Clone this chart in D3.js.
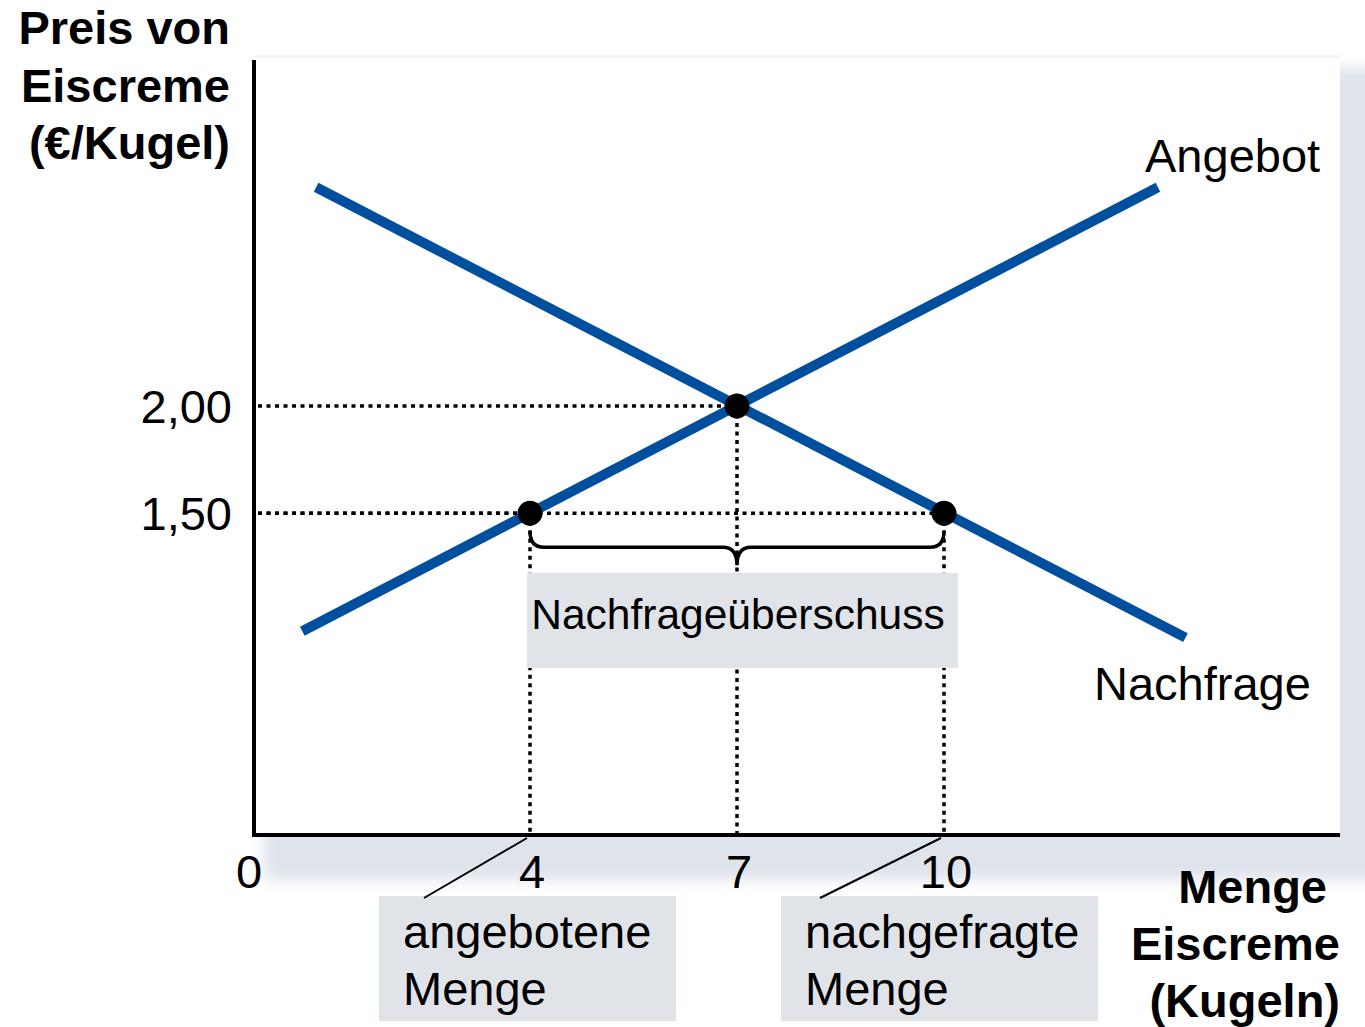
<!DOCTYPE html>
<html>
<head>
<meta charset="utf-8">
<script src="https://cdn.jsdelivr.net/npm/d3@7"></script>
<style>
  body { margin: 0; background: #fff; }
  text { font-family: "Liberation Sans", Arial, sans-serif; fill: #000; }
</style>
</head>
<body>
<div id="chart"></div>
<script>
// Angebot / Nachfrage (Eiscreme)
const supplyPoints = [{ q: 0.7, p: 0.95 }, { q: 13.1, p: 3.02 }];
const demandPoints = [{ q: 0.9, p: 3.02 }, { q: 13.5, p: 0.92 }];
const markedPoints = [{ q: 4, p: 1.5 }, { q: 7, p: 2.0 }, { q: 10, p: 1.5 }];
const xTicks = [0, 4, 7, 10];
const xTickLabels = ["0", "4", "7", "10"];
const yTicks = [2.0, 1.5];
const yTickLabels = ["2,00", "1,50"];
const yTitle = ["Preis von", "Eiscreme", "(€/Kugel)"];
const xTitle = ["Menge", "Eiscreme", "(Kugeln)"];

const width = 1365, height = 1027;
const svg = d3.select("#chart").append("svg")
    .attr("width", width).attr("height", height);

const x = d3.scaleLinear().domain([0, 10]).range([254, 944]);
const y = d3.scaleLinear().domain([0, 2]).range([835, 406]);
const x0 = x(0), y0 = y(0), xEnd = 1340, yTop = 57;
const fs = 47;

// soft shadow panel
const defs = svg.append("defs");
defs.append("filter").attr("id", "blur")
    .attr("x", "-10%").attr("y", "-10%").attr("width", "120%").attr("height", "120%")
    .append("feGaussianBlur").attr("stdDeviation", 7);
svg.append("rect")
    .attr("x", x0 + 10).attr("y", yTop + 10)
    .attr("width", 1120).attr("height", y0 - yTop + 35)
    .attr("fill", "#dfe3ec").attr("filter", "url(#blur)");
svg.append("rect")
    .attr("x", x0).attr("y", yTop)
    .attr("width", xEnd - x0).attr("height", y0 - yTop)
    .attr("fill", "#fff");
svg.append("line")
    .attr("x1", x0).attr("x2", xEnd).attr("y1", yTop - 0.5).attr("y2", yTop - 0.5)
    .attr("stroke", "#eef0f4").attr("stroke-width", 2);

// dotted guide lines
const dots = svg.append("g")
    .attr("stroke", "#000").attr("stroke-width", 3.5)
    .attr("stroke-dasharray", "4,4.5").attr("fill", "none");
markedPoints.forEach(d => {
    dots.append("line")
        .attr("x1", x0 + 4).attr("x2", x(d.q))
        .attr("y1", y(d.p)).attr("y2", y(d.p));
    dots.append("line")
        .attr("x1", x(d.q)).attr("x2", x(d.q))
        .attr("y1", y(d.p)).attr("y2", y0);
});

// curves
const line = d3.line().x(d => x(d.q)).y(d => y(d.p));
[supplyPoints, demandPoints].forEach(pts => {
    svg.append("path").datum(pts)
        .attr("d", line)
        .attr("fill", "none")
        .attr("stroke", "#004f9f")
        .attr("stroke-width", 10);
});

// brace
const bx1 = x(4), bx2 = x(10), bm = x(7), by = y(1.5);
const braceY = by + 34, r = 14;
svg.append("path")
    .attr("d", `M${bx1},${by + 18} Q${bx1},${braceY} ${bx1 + r},${braceY}
                L${bm - r},${braceY} Q${bm},${braceY} ${bm},${braceY + 18}
                Q${bm},${braceY} ${bm + r},${braceY}
                L${bx2 - r},${braceY} Q${bx2},${braceY} ${bx2},${by + 18}`)
    .attr("fill", "none").attr("stroke", "#000").attr("stroke-width", 3.5);

// Nachfrageüberschuss box
svg.append("rect")
    .attr("x", 527).attr("y", 573).attr("width", 431).attr("height", 95)
    .attr("fill", "#e0e3e8");
svg.append("text")
    .attr("x", 738).attr("y", 629)
    .attr("text-anchor", "middle").attr("font-size", 42.5)
    .text("Nachfrageüberschuss");

// axes
svg.append("line")
    .attr("x1", x0).attr("x2", x0).attr("y1", 60).attr("y2", y0 + 2)
    .attr("stroke", "#000").attr("stroke-width", 4);
svg.append("line")
    .attr("x1", x0 - 2).attr("x2", xEnd).attr("y1", y0).attr("y2", y0)
    .attr("stroke", "#000").attr("stroke-width", 4);

// points
svg.selectAll("circle.pt").data(markedPoints).enter()
    .append("circle").attr("class", "pt")
    .attr("cx", d => x(d.q)).attr("cy", d => y(d.p))
    .attr("r", 12.5).attr("fill", "#000");

// tick labels
svg.selectAll("text.xt").data(xTicks).enter()
    .append("text").attr("class", "xt")
    .attr("x", (d, i) => x(d) + (i === 0 ? -5 : 2)).attr("y", 888)
    .attr("text-anchor", "middle").attr("font-size", fs)
    .text((d, i) => xTickLabels[i]);
svg.selectAll("text.yt").data(yTicks).enter()
    .append("text").attr("class", "yt")
    .attr("x", 232).attr("y", d => y(d) + 17)
    .attr("text-anchor", "end").attr("font-size", fs)
    .text((d, i) => yTickLabels[i]);

// axis titles
svg.append("g").selectAll("text").data(yTitle).enter()
    .append("text")
    .attr("x", 230).attr("y", (d, i) => 44 + i * 57.5)
    .attr("text-anchor", "end").attr("font-size", fs).attr("font-weight", "bold")
    .text(d => d);
const xTitleX = [1327, 1340, 1340];
svg.append("g").selectAll("text").data(xTitle).enter()
    .append("text")
    .attr("x", (d, i) => xTitleX[i]).attr("y", (d, i) => 903 + i * 57)
    .attr("text-anchor", "end").attr("font-size", fs).attr("font-weight", "bold")
    .text(d => d);

// curve labels
svg.append("text").attr("x", 1145).attr("y", 172)
    .attr("font-size", fs).text("Angebot");
svg.append("text").attr("x", 1094).attr("y", 700)
    .attr("font-size", fs).text("Nachfrage");

// quantity callouts
const callouts = [
    { q: 4, box: [379, 896, 297, 125], lines: ["angebotene", "Menge"], from: [424, 898] },
    { q: 10, box: [781, 896, 317, 125], lines: ["nachgefragte", "Menge"], from: [820, 898] }
];
callouts.forEach(c => {
    svg.append("rect")
        .attr("x", c.box[0]).attr("y", c.box[1])
        .attr("width", c.box[2]).attr("height", c.box[3])
        .attr("fill", "#e0e3e8");
    svg.append("line")
        .attr("x1", c.from[0]).attr("y1", c.from[1])
        .attr("x2", x(c.q) - 3).attr("y2", y0 + 3)
        .attr("stroke", "#000").attr("stroke-width", 2);
    c.lines.forEach((t, i) => {
        svg.append("text")
            .attr("x", c.box[0] + 24).attr("y", c.box[1] + 52 + i * 57)
            .attr("font-size", fs).text(t);
    });
});
</script>
</body>
</html>
